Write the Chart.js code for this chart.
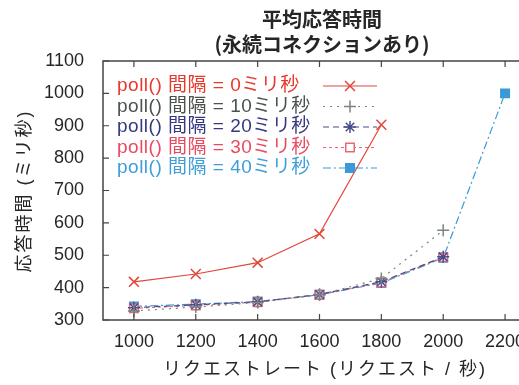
<!DOCTYPE html>
<html>
<head>
<meta charset="utf-8">
<script src="https://cdn.jsdelivr.net/npm/chart.js@4.4.1/dist/chart.umd.min.js"></script>
<style>
  html, body { margin: 0; padding: 0; background: #fff; overflow: hidden; }
  #wrap { width: 545px; height: 385px; }
</style>
</head>
<body>
<div id="wrap"><canvas id="chart" width="545" height="385"></canvas></div>
<script>
// 平均応答時間 (永続コネクションあり)
const rates = [1000, 1200, 1400, 1600, 1800, 2000, 2200];
const xTicks = [1000, 1200, 1400, 1600, 1800, 2000, 2200];
const yTicks = [300, 400, 500, 600, 700, 800, 900, 1000, 1100];

const poll0  = [418, 442, 477, 566, 903, null, null];
const poll10 = [328, 340, 354, 378, 428, 577, null];
const poll20 = [338, 347, 356, 379, 418, 495, null];
const poll30 = [336, 345, 355, 378, 416, 494, null];
const poll40 = [342, 349, 357, 378, 414, 492, 1000];

const labels = ['poll() 間隔 = 0ミリ秒', 'poll() 間隔 = 10ミリ秒', 'poll() 間隔 = 20ミリ秒',
                'poll() 間隔 = 30ミリ秒', 'poll() 間隔 = 40ミリ秒'];
const titleLines = ['平均応答時間', '(永続コネクションあり)'];
const xTitle = 'リクエストレート (リクエスト / 秒)';
const yTitle = '応答時間 (ミリ秒)';

const FONT = '"Liberation Sans", "Noto Sans CJK JP", sans-serif';
const TEXT = '#262626';

function toPoints(values) {
    return rates.map((r, i) => ({ x: r, y: values[i] }));
}

const styles = [
    { text: '#e8382c', line: '#e2463a', dash: [], point: 'crossRot', fill: '#e2463a', r: 7 },
    { text: '#4a544d', line: '#7c857e', dash: [2, 5], point: 'cross', fill: '#4f5a52', r: 6 },
    { text: '#363880', line: '#4a4c8c', dash: [6, 4], point: 'star', fill: '#3b3d86', r: 6 },
    { text: '#ea4a60', line: '#e86878', dash: [3, 3], point: 'rect', fill: '#ffffff', r: 6 },
    { text: '#3f9ed9', line: '#3a9ad8', dash: [8, 3, 2, 3], point: 'rect', fill: '#3a9ad8', r: 6 }
];

const series = [poll0, poll10, poll20, poll30, poll40];

const datasets = series.map((vals, i) => ({
    label: labels[i],
    data: toPoints(vals),
    borderColor: styles[i].line,
    borderWidth: 1.2,
    borderDash: styles[i].dash,
    pointStyle: styles[i].point,
    pointRadius: styles[i].r,
    pointBorderColor: styles[i].line,
    pointBorderWidth: 1.5,
    pointBackgroundColor: styles[i].fill,
    tension: 0,
    spanGaps: false
}));

// cadre, graduations intérieures, titres et légende façon gnuplot
const framePlugin = {
    id: 'frame',
    afterDraw(chart) {
        const ctx = chart.ctx;
        const a = chart.chartArea;
        const xs = chart.scales.x;
        const ys = chart.scales.y;
        ctx.save();
        ctx.strokeStyle = '#444';
        ctx.lineWidth = 1.5;
        ctx.strokeRect(a.left, a.top, a.right - a.left, a.bottom - a.top);
        ctx.lineWidth = 1.2;
        ctx.beginPath();
        xTicks.forEach(v => {
            const px = xs.getPixelForValue(v);
            ctx.moveTo(px, a.bottom); ctx.lineTo(px, a.bottom - 6);
            ctx.moveTo(px, a.top); ctx.lineTo(px, a.top + 6);
        });
        yTicks.forEach(v => {
            const py = ys.getPixelForValue(v);
            ctx.moveTo(a.left, py); ctx.lineTo(a.left + 6, py);
            ctx.moveTo(a.right, py); ctx.lineTo(a.right - 6, py);
        });
        ctx.stroke();

        // titre
        ctx.fillStyle = TEXT;
        ctx.textAlign = 'center';
        ctx.textBaseline = 'middle';
        ctx.font = 'bold 20px "Noto Sans CJK JP", sans-serif';
        ctx.fillText(titleLines[0], 322, 19);
        ctx.fillText(titleLines[1], 322, 44);

        // titres des axes
        ctx.letterSpacing = '2px';
        ctx.font = '18px ' + FONT;
        ctx.fillText(xTitle, 325, 370);
        ctx.save();
        ctx.translate(25, 191);
        ctx.rotate(-Math.PI / 2);
        ctx.fillText(yTitle, 0, 0);
        ctx.restore();

        // légende
        ctx.letterSpacing = '0.5px';
        ctx.font = '19px ' + FONT;
        ctx.textAlign = 'left';
        chart.data.datasets.forEach((ds, i) => {
            const y = 86 + i * 20.5;
            ctx.fillStyle = styles[i].text;
            ctx.fillText(ds.label, 117, y);
            ctx.strokeStyle = ds.borderColor;
            ctx.lineWidth = 1.2;
            ctx.setLineDash(ds.borderDash);
            ctx.beginPath();
            ctx.moveTo(323, y); ctx.lineTo(377, y);
            ctx.stroke();
            ctx.setLineDash([]);
            ctx.fillStyle = ds.pointBackgroundColor;
            ctx.lineWidth = ds.pointBorderWidth;
            Chart.helpers.drawPoint(ctx, {
                pointStyle: ds.pointStyle,
                radius: ds.pointRadius,
                rotation: 0,
                borderWidth: ds.pointBorderWidth
            }, 350, y);
        });
        ctx.letterSpacing = '0px';
        ctx.restore();
    }
};

new Chart(document.getElementById('chart'), {
    type: 'line',
    data: { datasets: datasets },
    options: {
        responsive: false,
        animation: false,
        layout: { padding: { top: 61, right: 9, left: 0, bottom: 0 } },
        plugins: {
            legend: { display: false },
            tooltip: { enabled: false },
            title: { display: false }
        },
        scales: {
            x: {
                type: 'linear',
                min: 900,
                max: 2300,
                grid: { display: false },
                border: { display: false },
                afterBuildTicks: scale => { scale.ticks = xTicks.map(v => ({ value: v })); },
                afterFit: scale => { scale.height = 65; },
                ticks: {
                    color: TEXT,
                    font: { family: FONT, size: 18 },
                    padding: 3,
                    maxRotation: 0,
                    autoSkip: false,
                    callback: v => String(v)
                }
            },
            y: {
                min: 300,
                max: 1100,
                grid: { display: false },
                border: { display: false },
                afterBuildTicks: scale => { scale.ticks = yTicks.map(v => ({ value: v })); },
                afterFit: scale => { scale.width = 103; },
                ticks: {
                    color: TEXT,
                    font: { family: FONT, size: 18 },
                    padding: 11,
                    callback: v => String(v)
                }
            }
        }
    },
    plugins: [framePlugin]
});
</script>
</body>
</html>
